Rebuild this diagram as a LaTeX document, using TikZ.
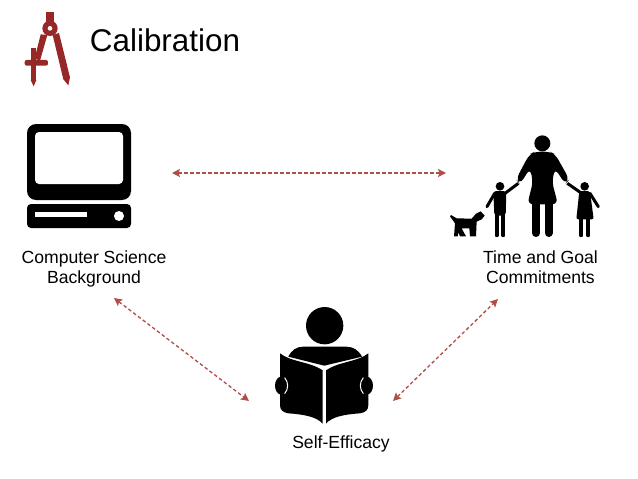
\documentclass[tikz,border=0pt]{standalone}
\usepackage{fontspec}
\setmainfont{Liberation Sans}
\usetikzlibrary{arrows.meta}

\definecolor{brick}{RGB}{150,40,40}
\definecolor{dashred}{RGB}{176,78,72}
\tikzset{
  label/.style={inner sep=0pt, align=center, font=\fontsize{17.6}{20}\selectfont},
  link/.style={dashred, line width=1.3pt, dash pattern=on 3.5pt off 2.5pt, {Stealth[length=8pt,width=8pt,inset=1.5pt]}-{Stealth[length=8pt,width=8pt,inset=1.5pt]}},
  ink/.style={fill=black, draw=none}
}

\begin{document}
\begin{tikzpicture}[x=1pt, y=-1pt]
  \useasboundingbox (0,0) rectangle (638,479);

  % compass
  \begin{scope}[scale=1/3, brick]
    \fill (139,35) rectangle (163,68);
    \fill (150,85) circle (23);
    \fill (142,105) -- (122,103) -- (104,176) -- (120,182) -- cycle;
    \fill (158,105) -- (177,99) -- (210,232) -- (205,256) -- (190,238) -- cycle;
    \fill (92,143) rectangle (109,240);
    \fill (92,240) -- (109,240) -- (101,259) -- cycle;
    \fill[rounded corners=2pt] (74,180) rectangle (144,197);
    \fill[white] (150,85) circle (7);
  \end{scope}
  \node [inner sep=0pt, font=\fontsize{31.4}{34}\selectfont] (title) at (165,40) {Calibration};

  % computer
  \fill[ink, rounded corners=9pt] (27,124) rectangle (131,200);
  \fill[white, rounded corners=4pt] (35,132) rectangle (123,184);
  \fill[ink, rounded corners=4pt] (27,204) rectangle (131,228);
  \fill[white] (35,212) rectangle (87,216.5);
  \fill[white] (119,216) circle (5);
  \node [label] (cs) at (94,268.5) {Computer Science\\Background};

  % family
  \begin{scope}[shift={(440,125)}, scale=1/3]
    \fill[ink] (307,55) circle (24);
    \fill[ink, rounded corners=6pt] (285,80) -- (330,80) -- (346,88) -- (388,163) -- (376,178) -- (345,130)
      -- (336,170) -- (354,238) -- (262,238) -- (279,170) -- (270,130) -- (240,178) -- (228,163) -- (268,88) -- cycle;
    \draw[line width=3pt] (235,175) -- (195,205);
    \draw[line width=3pt] (382,175) -- (425,205);
    \draw[line width=8pt, line cap=round] (288,235) -- (288,324);
    \draw[line width=8pt, line cap=round] (326,235) -- (326,324);
    % boy
    \fill[ink] (180,184) circle (13);
    \fill[ink, rounded corners=3pt] (160,198) -- (199,198) -- (197,272) -- (163,272) -- cycle;
    \draw[line width=3pt, line cap=round] (164,205) -- (141,245);
    \draw[line width=3.8pt, line cap=round] (170,265) -- (170,331);
    \draw[line width=3.8pt, line cap=round] (190,265) -- (190,331);
    % girl
    \fill[ink] (434,184) circle (13);
    \fill[ink, rounded corners=2pt] (418,198) -- (450,198) -- (461,283) -- (409,283) -- cycle;
    \draw[line width=3pt, line cap=round] (450,205) -- (475,245);
    \draw[line width=3.8pt, line cap=round] (424,280) -- (424,331);
    \draw[line width=3.8pt, line cap=round] (445,280) -- (445,331);
    % dog
    \fill[ink] (33,270) -- (50,280) -- (95,281) -- (108,266) -- (122,259) -- (134,272) -- (125,283) -- (110,290)
      -- (108,334) -- (90,334) -- (88,310) -- (65,310) -- (78,334) -- (60,334) -- (55,322) -- (53,334) -- (42,334)
      -- (45,295) -- (30,274) -- cycle;
  \end{scope}
  \node [label] (goal) at (540.5,267) {Time and Goal\\Commitments};

  % reader
  \begin{scope}[shift={(260,295)}, scale=1/3]
    \fill[ink] (194,92) circle (56);
    \fill[ink] (85,185) .. controls (95,165) and (110,155) .. (130,155) -- (258,155)
      .. controls (280,155) and (295,165) .. (306,185) -- (193,212) -- cycle;
    \fill[ink] (60,175) .. controls (90,200) and (150,200) .. (188,226) -- (188,386)
      .. controls (170,365) and (130,358) .. (85,355) .. controls (68,352) and (60,345) .. (60,330) -- cycle;
    \fill[ink] (325,175) .. controls (295,200) and (235,200) .. (198,226) -- (198,386)
      .. controls (215,365) and (255,358) .. (300,355) .. controls (317,352) and (325,345) .. (325,330) -- cycle;
    \fill[ink] (64,272) ellipse (19 and 27);
    \fill[ink] (320,272) ellipse (19 and 27);
    \draw[white, line width=1pt] (74,248) .. controls (86,262) and (86,282) .. (74,296);
    \draw[white, line width=1pt] (310,248) .. controls (298,262) and (298,282) .. (310,296);
  \end{scope}
  \node [label] (self) at (341,443.5) {Self-Efficacy};

  % free ends of the links
  \coordinate (a1) at (172,173);
  \coordinate (a2) at (446,173);
  \coordinate (b1) at (114,298);
  \coordinate (b2) at (249,401);
  \coordinate (c1) at (393,401);
  \coordinate (c2) at (498,299);
  \draw [link] (a1) -- (a2);
  \draw [link] (b1) -- (b2);
  \draw [link] (c1) -- (c2);
\end{tikzpicture}
\end{document}
